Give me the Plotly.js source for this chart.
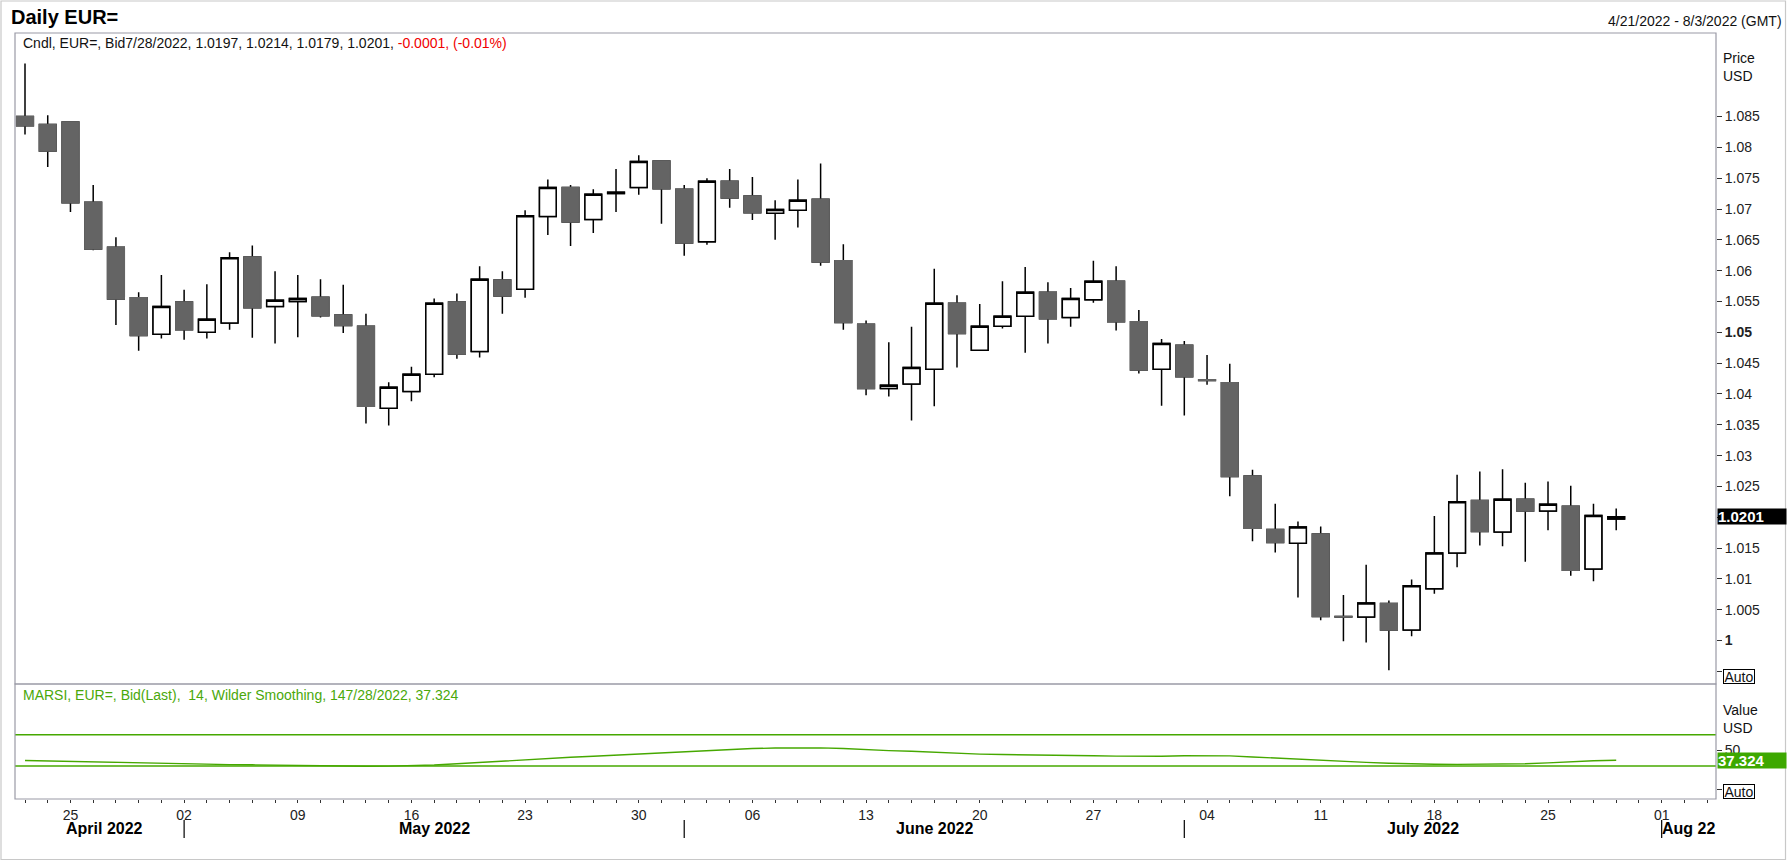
<!DOCTYPE html>
<html><head><meta charset="utf-8">
<script src="https://cdn.plot.ly/plotly-3.0.1.min.js"></script>
<style>html,body{margin:0;padding:0;background:#fff;}#chart{width:1788px;height:862px;}</style>
</head><body><div id="chart"></div>
<script>
// ---------- data ----------
const dates = [
 '2022-04-21','2022-04-22','2022-04-25','2022-04-26','2022-04-27','2022-04-28','2022-04-29',
 '2022-05-02','2022-05-03','2022-05-04','2022-05-05','2022-05-06','2022-05-09','2022-05-10','2022-05-11','2022-05-12','2022-05-13','2022-05-16','2022-05-17','2022-05-18','2022-05-19','2022-05-20','2022-05-23','2022-05-24','2022-05-25','2022-05-26','2022-05-27','2022-05-30','2022-05-31',
 '2022-06-01','2022-06-02','2022-06-03','2022-06-06','2022-06-07','2022-06-08','2022-06-09','2022-06-10','2022-06-13','2022-06-14','2022-06-15','2022-06-16','2022-06-17','2022-06-20','2022-06-21','2022-06-22','2022-06-23','2022-06-24','2022-06-27','2022-06-28','2022-06-29','2022-06-30',
 '2022-07-01','2022-07-04','2022-07-05','2022-07-06','2022-07-07','2022-07-08','2022-07-11','2022-07-12','2022-07-13','2022-07-14','2022-07-15','2022-07-18','2022-07-19','2022-07-20','2022-07-21','2022-07-22','2022-07-25','2022-07-26','2022-07-27','2022-07-28'
];
const extraAxisDates = ['2022-07-29','2022-08-01','2022-08-02','2022-08-03'];

const openP = [
 1.0850,1.0837,1.0841,1.0711,1.0638,1.0556,1.0497,
 1.0549,1.0500,1.0515,1.0622,1.0542,1.0550,1.0557,1.0528,1.0510,1.0377,1.0404,1.0432,1.0549,1.0469,1.0585,1.0570,1.0688,1.0735,1.0683,1.0725,1.0735,1.0778,
 1.0732,1.0647,1.0745,1.0721,1.0693,1.0698,1.0716,1.0616,1.0513,1.0409,1.0416,1.0440,1.0547,1.0471,1.0510,1.0526,1.0565,1.0524,1.0553,1.0583,1.0517,1.0440,
 1.0479,1.0423,1.0418,1.0267,1.0180,1.0158,1.0173,1.0039,1.0038,1.0060,1.0017,1.0084,1.0142,1.0227,1.0176,1.0229,1.0210,1.0218,1.0116,1.0197
];
const highP = [
 1.0936,1.0852,1.0842,1.0739,1.0654,1.0565,1.0593,
 1.0569,1.0578,1.0630,1.0641,1.0599,1.0593,1.0586,1.0577,1.0530,1.0419,1.0444,1.0555,1.0563,1.0607,1.0599,1.0698,1.0748,1.0739,1.0732,1.0765,1.0787,1.0779,
 1.0739,1.0750,1.0765,1.0752,1.0714,1.0748,1.0774,1.0643,1.0519,1.0484,1.0509,1.0603,1.0560,1.0546,1.0583,1.0606,1.0581,1.0572,1.0616,1.0607,1.0536,1.0489,
 1.0486,1.0463,1.0449,1.0277,1.0222,1.0193,1.0185,1.0074,1.0123,1.0065,1.0099,1.0202,1.0269,1.0274,1.0278,1.0256,1.0258,1.0251,1.0222,1.0214
];
const lowP = [
 1.0821,1.0768,1.0695,1.0633,1.0512,1.0470,1.0490,
 1.0488,1.0490,1.0504,1.0491,1.0482,1.0492,1.0524,1.0499,1.0352,1.0349,1.0388,1.0427,1.0457,1.0459,1.0530,1.0556,1.0658,1.0640,1.0661,1.0695,1.0723,1.0676,
 1.0624,1.0642,1.0702,1.0682,1.0650,1.0670,1.0608,1.0504,1.0398,1.0396,1.0357,1.0380,1.0443,1.0470,1.0506,1.0467,1.0482,1.0509,1.0548,1.0503,1.0433,1.0381,
 1.0365,1.0415,1.0234,1.0161,1.0143,1.0070,1.0033,0.9999,0.9997,0.9952,1.0007,1.0076,1.0119,1.0154,1.0153,1.0128,1.0179,1.0105,1.0096,1.0179
];
const closeP = [
 1.0835,1.0794,1.0710,1.0635,1.0554,1.0495,1.0542,
 1.0504,1.0521,1.0621,1.0540,1.0552,1.0555,1.0527,1.0511,1.0380,1.0411,1.0432,1.0547,1.0465,1.0586,1.0559,1.0689,1.0735,1.0679,1.0724,1.0727,1.0777,1.0733,
 1.0645,1.0745,1.0718,1.0694,1.0699,1.0714,1.0614,1.0516,1.0409,1.0414,1.0443,1.0547,1.0498,1.0510,1.0526,1.0565,1.0522,1.0555,1.0583,1.0517,1.0439,1.0482,
 1.0428,1.0422,1.0266,1.0182,1.0159,1.0184,1.0039,1.0038,1.0061,1.0017,1.0089,1.0142,1.0225,1.0177,1.0229,1.0210,1.0221,1.0114,1.0203,1.0201
];
const rsi = [
 37.1,36.5,35.8,35.2,34.3,33.5,32.8,
 32.1,32.0,31.8,31.5,31.0,30.6,30.2,29.8,29.6,29.8,30.2,31.2,32.8,34.6,36.2,37.8,39.5,41.2,42.5,44.0,45.6,47.2,
 48.6,50.0,51.2,52.3,52.9,53.3,53.1,52.3,50.8,49.6,48.8,47.4,45.9,45.2,44.6,44.0,43.5,43.3,43.0,42.6,42.2,42.4,
 43.0,43.3,42.9,41.5,40.0,38.8,37.5,36.0,34.6,33.5,32.6,32.2,32.1,32.1,32.2,32.8,34.0,35.5,36.6,37.324
];
const rsiBands = [70, 30];

const priceTickVals = [0.995,1,1.005,1.01,1.015,1.02,1.025,1.03,1.035,1.04,1.045,1.05,1.055,1.06,1.065,1.07,1.075,1.08,1.085];
const priceTickText = ['','<b>1</b>','1.005','1.01','1.015','','1.025','1.03','1.035','1.04','1.045','<b>1.05</b>','1.055','1.06','1.065','1.07','1.075','1.08','1.085'];
const rsiTickVals = [0, 50];
const rsiTickText = ['', '50'];
const monthLabels = ['April 2022','May 2022','June 2022','July 2022','Aug 22'];

const titleText = 'Daily EUR=';
const rangeText = '4/21/2022 - 8/3/2022 (GMT)';
const legendText = 'Cndl, EUR=, Bid7/28/2022, 1.0197, 1.0214, 1.0179, 1.0201, ';
const legendChange = '-0.0001, (-0.01%)';
const rsiLegend = 'MARSI, EUR=, Bid(Last),  14, Wilder Smoothing, 147/28/2022, 37.324';

// ---------- layout geometry (pixels) ----------
const W = 1788, H = 862, L = 15, R = 1716, T = 33, B = 799, SPLIT = 684;
const px2x = p => (p - L) / (R - L);
const py2y = p => (B - p) / (B - T);
const splitFrac = py2y(SPLIT);
const xRange = [-0.44, 74.39];

const GREEN = '#46a800';
const FONT = 'Liberation Sans, Arial, sans-serif';

const idx = dates.map((d, i) => i);
const axisDates = dates.concat(extraAxisDates);

// Monday ticks
const xTickVals = [], xTickText = [];
axisDates.forEach((d, i) => {
  const dt = new Date(d + 'T00:00:00Z');
  if (dt.getUTCDay() === 1) { xTickVals.push(i); xTickText.push(d.slice(8, 10)); }
});
// month starts
const monthStarts = [];
axisDates.forEach((d, i) => {
  if (i === 0 || d.slice(5, 7) !== axisDates[i - 1].slice(5, 7)) monthStarts.push(i);
});

const bodyHigh = openP.map((o, i) => Math.max(o, closeP[i]));
const bodyLow = openP.map((o, i) => Math.min(o, closeP[i]));

const traces = [
  { type: 'candlestick', x: idx, open: openP, high: highP, low: lowP, close: closeP,
    xaxis: 'x', yaxis: 'y', whiskerwidth: 0, hoverinfo: 'none',
    increasing: { line: { color: '#000', width: 1.5 }, fillcolor: '#ffffff' },
    decreasing: { line: { color: '#000', width: 1.5 }, fillcolor: '#646464' } },
  { type: 'candlestick', x: idx, open: openP, high: bodyHigh, low: bodyLow, close: closeP,
    xaxis: 'x', yaxis: 'y', whiskerwidth: 0, hoverinfo: 'none',
    increasing: { line: { color: '#000', width: 1.5 }, fillcolor: '#ffffff' },
    decreasing: { line: { color: '#646464', width: 1.5 }, fillcolor: '#646464' } },
  { type: 'scatter', mode: 'lines', x: idx, y: rsi, xaxis: 'x', yaxis: 'y2',
    line: { color: GREEN, width: 1.4 }, hoverinfo: 'none' }
];

const shapes = [];
// panel frames
shapes.push({ type: 'rect', xref: 'paper', yref: 'paper', x0: 0, x1: 1, y0: splitFrac, y1: 1,
  line: { color: '#9a9aa6', width: 1.2 }, fillcolor: 'rgba(0,0,0,0)' });
shapes.push({ type: 'rect', xref: 'paper', yref: 'paper', x0: 0, x1: 1, y0: 0, y1: splitFrac,
  line: { color: '#9a9aa6', width: 1.2 }, fillcolor: 'rgba(0,0,0,0)' });
// outer border
shapes.push({ type: 'rect', xref: 'paper', yref: 'paper', x0: px2x(1), x1: px2x(1785.5), y0: py2y(859.5), y1: py2y(1),
  line: { color: '#c8c8c8', width: 1.2 }, fillcolor: 'rgba(0,0,0,0)' });
// RSI bands
rsiBands.forEach(v => shapes.push({ type: 'line', xref: 'paper', yref: 'y2', x0: 0, x1: 1, y0: v, y1: v,
  line: { color: GREEN, width: 1.5 }, layer: 'below' }));
// month separators
monthStarts.slice(1).forEach(i => shapes.push({ type: 'line', xref: 'x', yref: 'paper', x0: i, x1: i,
  y0: py2y(838), y1: py2y(820), line: { color: '#000', width: 1.2 } }));

const annotations = [];
const A = (text, x, y, opts) => annotations.push(Object.assign({ text, x, y, xref: 'paper', yref: 'paper',
  showarrow: false, xanchor: 'left', yanchor: 'middle', font: { family: FONT, size: 14, color: '#111' } }, opts || {}));

A('<b>' + titleText + '</b>', px2x(9), py2y(17), { font: { family: FONT, size: 20, color: '#000' } });
A(rangeText, px2x(1784), py2y(21), { xanchor: 'right' });
A(legendText + '<span style="color:#f00000">' + legendChange + '</span>', px2x(21), py2y(43));
A('Price', px2x(1721), py2y(58));
A('USD', px2x(1721), py2y(76));
A('Value', px2x(1721), py2y(710));
A('USD', px2x(1721), py2y(728));
A(rsiLegend, px2x(21), py2y(695), { font: { family: FONT, size: 14, color: '#4aa80a' } });
A('Auto', px2x(1723), py2y(676), { bordercolor: '#000', borderwidth: 1, borderpad: 0, bgcolor: '#fff', width: 30, height: 13 });
A('Auto', px2x(1723), py2y(791), { bordercolor: '#000', borderwidth: 1, borderpad: 0, bgcolor: '#fff', width: 30, height: 13 });
// last value tags (positioned by data value on their y axes)
A('<b>' + closeP[closeP.length - 1].toFixed(4) + '</b>', px2x(1716.5), closeP[closeP.length - 1],
  { yref: 'y', bgcolor: '#000', borderpad: 0, width: 68, height: 15, align: 'left',
    font: { family: FONT, size: 15, color: '#fff' } });
A('<b>' + rsi[rsi.length - 1].toFixed(3) + '</b>', px2x(1716.5), rsi[rsi.length - 1],
  { yref: 'y2', bgcolor: '#3da800', borderpad: 0, width: 68, height: 15, align: 'left',
    font: { family: FONT, size: 15, color: '#fff' } });
// month labels
monthStarts.forEach((s, k) => {
  const lo = Math.max(s, xRange[0]);
  const hi = Math.min(k + 1 < monthStarts.length ? monthStarts[k + 1] : xRange[1], xRange[1]);
  annotations.push({ text: '<b>' + monthLabels[k] + '</b>', xref: 'x', yref: 'paper', x: (lo + hi) / 2, y: py2y(828),
    showarrow: false, xanchor: 'center', yanchor: 'middle', font: { family: FONT, size: 16, color: '#000' } });
});

const layout = {
  width: W, height: H,
  margin: { l: L, r: W - R, t: T, b: H - B, pad: 0 },
  paper_bgcolor: '#fff', plot_bgcolor: '#fff',
  showlegend: false, hovermode: false,
  boxgap: 0.265, boxgroupgap: 0, boxmode: 'overlay',
  font: { family: FONT, size: 14, color: '#222' },
  xaxis: {
    range: xRange, anchor: 'y2', fixedrange: true,
    tickmode: 'array', tickvals: xTickVals, ticktext: xTickText,
    ticks: 'outside', ticklen: 3, tickcolor: '#333', tickwidth: 1,
    minor: { tickmode: 'linear', tick0: 0, dtick: 1, ticks: 'outside', ticklen: 3, tickcolor: '#333', tickwidth: 1, showgrid: false },
    tickfont: { family: FONT, size: 14, color: '#222' },
    showgrid: false, zeroline: false, showline: false,
    rangeslider: { visible: false }
  },
  yaxis: {
    domain: [splitFrac, 1], range: [0.99295, 1.09855], anchor: 'x', side: 'right', fixedrange: true,
    tickmode: 'array', tickvals: priceTickVals, ticktext: priceTickText,
    ticks: 'outside', ticklen: 5, tickcolor: '#333', tickwidth: 1,
    tickfont: { family: FONT, size: 14, color: '#222' },
    showgrid: false, zeroline: false, showline: false
  },
  yaxis2: {
    domain: [0, splitFrac], range: [-12.2, 134.8], anchor: 'x', side: 'right', fixedrange: true,
    tickmode: 'array', tickvals: rsiTickVals, ticktext: rsiTickText,
    ticks: 'outside', ticklen: 5, tickcolor: '#333', tickwidth: 1,
    tickfont: { family: FONT, size: 14, color: '#222' },
    showgrid: false, zeroline: false, showline: false
  },
  shapes, annotations
};

Plotly.newPlot('chart', traces, layout, { staticPlot: true, displayModeBar: false });
</script>
</body></html>
